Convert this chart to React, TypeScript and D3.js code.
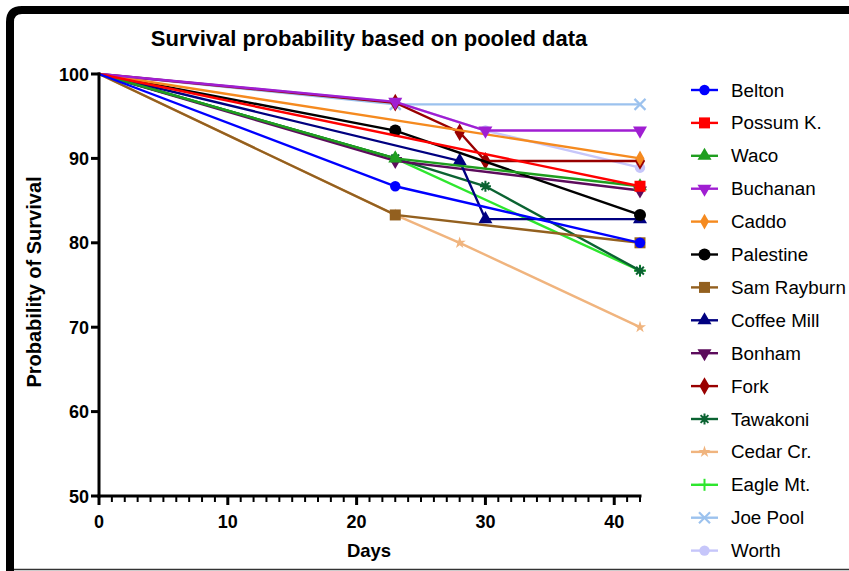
import React from "react";
import * as d3 from "d3";

// Kaplan-Meier style survival (%) by site; each point is [day, survival]
const seriesNames = [
  "Belton", "Possum K.", "Waco", "Buchanan", "Caddo", "Palestine", "Sam Rayburn",
  "Coffee Mill", "Bonham", "Fork", "Tawakoni", "Cedar Cr.", "Eagle Mt.", "Joe Pool", "Worth",
];

const belton = [[0, 100], [23, 86.7], [42, 80]];
const possumK = [[0, 100], [42, 86.7]];
const waco = [[0, 100], [23, 90], [42, 86.7]];
const buchanan = [[0, 100], [23, 96.7], [30, 93.3], [42, 93.3]];
const caddo = [[0, 100], [42, 90]];
const palestine = [[0, 100], [23, 93.3], [42, 83.3]];
const samRayburn = [[0, 100], [23, 83.3], [42, 80]];
const coffeeMill = [[0, 100], [28, 89.7], [30, 82.8], [42, 82.8]];
const bonham = [[0, 100], [23, 89.7], [42, 86.2]];
const fork = [[0, 100], [23, 96.6], [28, 93.1], [30, 89.7], [42, 89.7]];
const tawakoni = [[0, 100], [23, 90], [30, 86.7], [42, 76.7]];
const cedarCr = [[0, 100], [23, 83.3], [28, 80], [42, 70]];
const eagleMt = [[0, 100], [23, 90], [42, 76.7]];
const joePool = [[0, 100], [23, 96.4], [42, 96.4]];
const worth = [[0, 100], [23, 96.7], [30, 93.3], [42, 88.9]];

const seriesValues = [
  belton, possumK, waco, buchanan, caddo, palestine, samRayburn,
  coffeeMill, bonham, fork, tawakoni, cedarCr, eagleMt, joePool, worth,
];

const seriesColors = [
  "#0000ff", "#ff0000", "#1f9e1f", "#a01ed2", "#f58a1f", "#000000", "#93601f",
  "#000080", "#5c0c5c", "#990000", "#0b6332", "#f0b47e", "#2ee62e", "#9cc2ee", "#c6c6fa",
];

const seriesMarkers = [
  "circle", "square", "triangle", "triangleDown", "diamondSmall", "circleBig", "square",
  "triangle", "triangleDown", "diamond", "asterisk", "star", "plus", "cross", "circle",
];

const xTicks = [0, 10, 20, 30, 40];
const yTicks = [50, 60, 70, 80, 90, 100];

const W = 849;
const H = 571;
const FONT = "'Liberation Sans', Arial, Helvetica, sans-serif";

const x = d3.scaleLinear().domain([0, 42]).range([99, 640]);
const y = d3.scaleLinear().domain([50, 100]).range([496, 74]);

function Marker({ kind, color, cx, cy }: { kind: string; color: string; cx: number; cy: number }) {
  const t = `translate(${cx},${cy})`;
  switch (kind) {
    case "circle":
      return <circle cx={cx} cy={cy} r={5.2} fill={color} />;
    case "circleBig":
      return <circle cx={cx} cy={cy} r={6} fill={color} />;
    case "square":
      return <rect x={cx - 5.5} y={cy - 5.5} width={11} height={11} fill={color} />;
    case "triangle":
      return <path transform={t} d={d3.symbol(d3.symbolTriangle, 85)()!} fill={color} />;
    case "triangleDown":
      return <path transform={`${t} rotate(180)`} d={d3.symbol(d3.symbolTriangle, 85)()!} fill={color} />;
    case "diamond":
      return <path transform={t} d={d3.symbol(d3.symbolDiamond, 90)()!} fill={color} />;
    case "diamondSmall":
      return <path transform={t} d={d3.symbol(d3.symbolDiamond, 70)()!} fill={color} />;
    case "star":
      return <path transform={t} d={d3.symbol(d3.symbolStar, 45)()!} fill={color} />;
    case "asterisk":
      return (
        <g transform={t} stroke={color} strokeWidth={2}>
          {[0, 45, 90, 135].map((a) => (
            <line key={a} x1={-5.5} y1={0} x2={5.5} y2={0} transform={`rotate(${a})`} />
          ))}
          <circle r={3} fill={color} stroke="none" />
        </g>
      );
    case "plus":
      return (
        <g transform={t} stroke={color} strokeWidth={2}>
          <line x1={-6} y1={0} x2={6} y2={0} />
          <line x1={0} y1={-6} x2={0} y2={6} />
        </g>
      );
    case "cross":
      return (
        <g transform={t} stroke={color} strokeWidth={2.2}>
          <line x1={-5.5} y1={-5.5} x2={5.5} y2={5.5} />
          <line x1={-5.5} y1={5.5} x2={5.5} y2={-5.5} />
        </g>
      );
    default:
      return null;
  }
}

export default function App() {
  const line = d3
    .line<number[]>()
    .x((d) => x(d[0]))
    .y((d) => y(d[1]));

  const minorTicks = d3.range(0, 43, 1);
  const order = d3.range(seriesNames.length).reverse();

  return (
    <svg
      width={W}
      height={H}
      style={{ position: "absolute", left: 0, top: 0, background: "#fff" }}
      fontFamily={FONT}
    >
      <rect x={0} y={0} width={W} height={H} fill="#fff" />
      {/* outer frame */}
      <path d={`M10,${H} L10,22 Q10,10 22,10 L${W},10`} fill="none" stroke="#000" strokeWidth={8} />
      <line x1={14} y1={569.5} x2={W} y2={569.5} stroke="#333" strokeWidth={1.5} />

      <text x={369} y={46} textAnchor="middle" fontSize={22} fontWeight="bold">
        Survival probability based on pooled data
      </text>

      {/* series */}
      {order.map((i) => (
        <g key={seriesNames[i]}>
          <path d={line(seriesValues[i])!} fill="none" stroke={seriesColors[i]} strokeWidth={2.4} />
          {seriesValues[i].slice(1).map((p, j) => (
            <Marker key={j} kind={seriesMarkers[i]} color={seriesColors[i]} cx={x(p[0])} cy={y(p[1])} />
          ))}
        </g>
      ))}

      {/* y axis */}
      <line x1={x(0)} y1={y(50) + 1.5} x2={x(0)} y2={y(100) - 1.5} stroke="#000" strokeWidth={3} />
      {yTicks.map((v) => (
        <g key={v}>
          <line x1={x(0) - 8} y1={y(v)} x2={x(0)} y2={y(v)} stroke="#000" strokeWidth={3} />
          <text x={x(0) - 10} y={y(v) + 6.5} textAnchor="end" fontSize={18} fontWeight="bold">
            {v}
          </text>
        </g>
      ))}

      {/* x axis */}
      <line x1={x(0) - 1.5} y1={y(50)} x2={x(42) + 1.5} y2={y(50)} stroke="#000" strokeWidth={3} />
      {minorTicks.map((d) => (
        <line
          key={d}
          x1={x(d)}
          y1={y(50)}
          x2={x(d)}
          y2={y(50) + (d % 10 === 0 ? 9 : 6)}
          stroke="#000"
          strokeWidth={d % 10 === 0 ? 3 : 2}
        />
      ))}
      {xTicks.map((d) => (
        <text key={d} x={x(d)} y={528} textAnchor="middle" fontSize={18} fontWeight="bold">
          {d}
        </text>
      ))}

      <text x={369} y={557} textAnchor="middle" fontSize={18.5} fontWeight="bold">
        Days
      </text>
      <text
        transform={`translate(41,${y(75) - 3}) rotate(-90)`}
        textAnchor="middle"
        fontSize={20}
        fontWeight="bold"
      >
        Probability of Survival
      </text>

      {/* legend */}
      {seriesNames.map((name, i) => {
        const ly = 90 + i * 32.9;
        return (
          <g key={name}>
            <line x1={691} y1={ly} x2={718} y2={ly} stroke={seriesColors[i]} strokeWidth={2.4} />
            <Marker kind={seriesMarkers[i]} color={seriesColors[i]} cx={704.5} cy={ly} />
            <text x={731} y={ly + 6.5} fontSize={18.8}>
              {name}
            </text>
          </g>
        );
      })}
    </svg>
  );
}
